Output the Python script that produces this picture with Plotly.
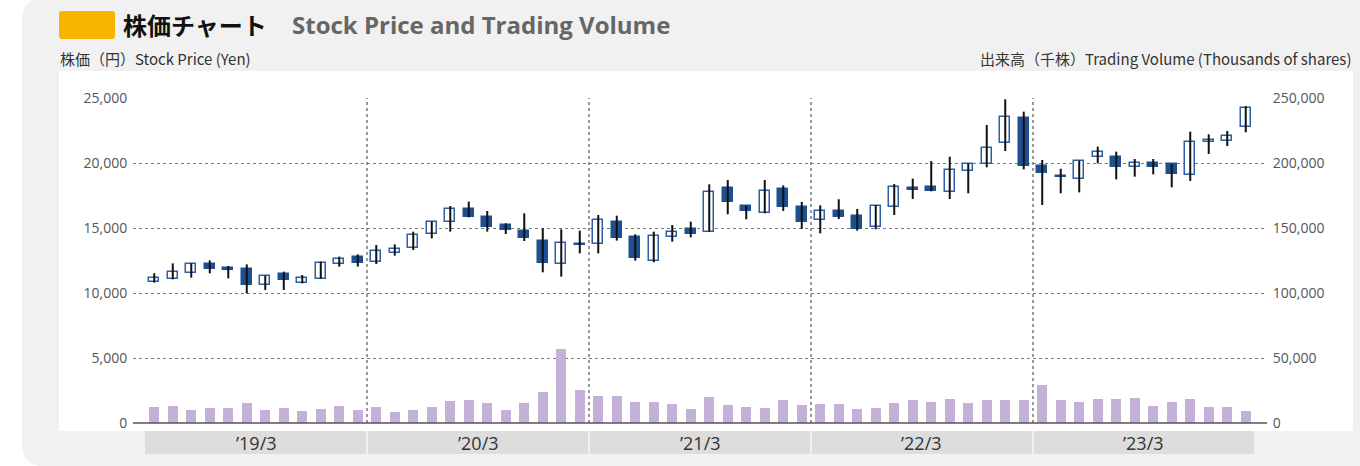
import plotly.graph_objects as go

# ---------------- data ----------------
year_labels = ["’19/3", "’20/3", "’21/3", "’22/3", "’23/3"]
months_per_year = 12

opens = [10850, 11050, 11560, 12230, 11900, 11850, 10640, 11460, 10800, 11100, 12200, 12740,
         12410, 13050, 13440, 14510, 15490, 16490, 15870, 15260, 14800, 14030, 12200, 13770,
         13770, 15490, 14280, 12490, 14330, 14920, 14720, 18050, 16720, 16130, 18030, 16640,
         15620, 16330, 15920, 15100, 16640, 18080, 18130, 17800, 19380, 19900, 21510, 23440,
         19800, 19030, 18800, 20490, 20490, 19690, 20030, 19900, 19050, 21590, 21670, 22770]
highs = [11520, 12280, 12280, 12510, 12080, 12200, 11330, 11640, 11380, 12410, 12800, 12970,
         13690, 13740, 14720, 15490, 16690, 17030, 16310, 15360, 16130, 14970, 14900, 14800,
         16000, 15950, 14510, 14720, 15230, 15490, 18360, 18690, 16720, 18690, 18280, 17000,
         16740, 17210, 16460, 16770, 18380, 18800, 20150, 20490, 19970, 22920, 24900, 23950,
         20230, 19560, 20180, 21260, 20870, 20310, 20310, 19900, 22410, 22210, 22460, 24380]
lows = [10800, 11050, 11180, 11510, 11130, 9970, 10230, 10230, 10740, 11100, 12030, 12030,
        12230, 12870, 13310, 14200, 14720, 15820, 14720, 14540, 14000, 11590, 11260, 13050,
        13050, 14030, 12490, 12360, 13950, 14280, 14720, 16050, 15670, 16130, 16310, 14920,
        14590, 15690, 14800, 14900, 16000, 17230, 17820, 17230, 17670, 19670, 20920, 19510,
        16770, 17670, 17740, 19970, 18740, 18950, 19130, 18130, 18620, 20690, 21310, 22360]
closes = [11180, 11640, 12200, 11870, 11800, 10590, 11330, 11000, 11130, 12280, 12590, 12280,
          13260, 13360, 14460, 15490, 16490, 15870, 15100, 14850, 14260, 12280, 13820, 13670,
          15620, 14200, 12670, 14410, 14720, 14540, 17800, 17030, 16330, 17870, 16620, 15490,
          16330, 15820, 14920, 16690, 18180, 17920, 17820, 19440, 19900, 21150, 23540, 19770,
          19210, 18900, 20180, 20870, 19670, 19970, 19720, 19150, 21620, 21800, 22100, 24260]
volumes = [12170, 12950, 9840, 11400, 11400, 15280, 9840, 11400, 9070, 10620, 12950, 9840,
           12170, 8290, 9840, 12170, 16840, 17610, 15280, 9840, 15280, 23830, 57240, 25380,
           20720, 20720, 16060, 16060, 14500, 10620, 19940, 13730, 12170, 11400, 17610, 13730,
           14500, 14500, 10620, 11400, 15280, 17610, 16060, 18390, 15280, 17610, 17610, 17610,
           29270, 17610, 16060, 18390, 18390, 19170, 12950, 16060, 18390, 12170, 12170, 9070]

price_ticks = [0, 5000, 10000, 15000, 20000, 25000]
volume_ticks = [0, 50000, 100000, 150000, 200000, 250000]

# ---------------- geometry ----------------
W, H = 1360, 466
PL, PR, PT, PB = 133, 1267, 98, 423
X0, X1 = -1.15, 60.15
n = len(opens)
idx = list(range(n))


def px(p):
    return (p - PL) / (PR - PL)


def py(p):
    return (PB - p) / (PB - PT)


def dx(v):
    return (v - X0) / (X1 - X0)


UP_LINE = "#2f5fa3"
DOWN_FILL = "#1e4f8f"

fig = go.Figure()

# volume bars
fig.add_trace(go.Bar(x=idx, y=volumes, yaxis="y2", width=0.54,
                     marker=dict(color="#c3b1d7", line=dict(width=0)),
                     hoverinfo="skip", showlegend=False))

# wicks
wx, wy = [], []
for i in idx:
    wx += [i, i, None]
    wy += [lows[i], highs[i], None]
fig.add_trace(go.Scatter(x=wx, y=wy, mode="lines", line=dict(color="#111", width=2),
                         hoverinfo="skip", showlegend=False))

# candle bodies
base = [min(o, c) for o, c in zip(opens, closes)]
height = [max(abs(c - o), 40) for o, c in zip(opens, closes)]
fill = ["#ffffff" if c >= o else DOWN_FILL for o, c in zip(opens, closes)]
edge = [UP_LINE if c >= o else DOWN_FILL for o, c in zip(opens, closes)]
fig.add_trace(go.Bar(x=idx, y=height, base=base, width=0.54,
                     marker=dict(color=fill, line=dict(color=edge, width=1.5)),
                     hoverinfo="skip", showlegend=False))

shapes = []
# card background
cx0, cx1, cy0, cy1, r = 22, 1420, -2, 466, 22
card_path = (f"M {px(cx0 + r)},{py(cy0)} L {px(cx1)},{py(cy0)} L {px(cx1)},{py(cy1)} "
             f"L {px(cx0 + r)},{py(cy1)} Q {px(cx0)},{py(cy1)} {px(cx0)},{py(cy1 - r)} "
             f"L {px(cx0)},{py(cy0 + r)} Q {px(cx0)},{py(cy0)} {px(cx0 + r)},{py(cy0)} Z")
shapes.append(dict(type="path", xref="paper", yref="paper", path=card_path,
                   fillcolor="#f0f1f0", line=dict(width=0), layer="below"))
# white chart area
shapes.append(dict(type="rect", xref="paper", yref="paper", x0=px(59), x1=px(1353),
                   y0=py(431), y1=py(71), fillcolor="#ffffff", line=dict(width=0), layer="below"))
# yellow box
yx0, yx1, yy0, yy1, yr = 59, 115, 11, 39, 3
ypath = (f"M {px(yx0 + yr)},{py(yy0)} L {px(yx1 - yr)},{py(yy0)} Q {px(yx1)},{py(yy0)} {px(yx1)},{py(yy0 + yr)} "
         f"L {px(yx1)},{py(yy1 - yr)} Q {px(yx1)},{py(yy1)} {px(yx1 - yr)},{py(yy1)} "
         f"L {px(yx0 + yr)},{py(yy1)} Q {px(yx0)},{py(yy1)} {px(yx0)},{py(yy1 - yr)} "
         f"L {px(yx0)},{py(yy0 + yr)} Q {px(yx0)},{py(yy0)} {px(yx0 + yr)},{py(yy0)} Z")
shapes.append(dict(type="path", xref="paper", yref="paper", path=ypath,
                   fillcolor="#f8b500", line=dict(width=0), layer="below"))

annotations = []
for k, lab in enumerate(year_labels):
    a = k * months_per_year - 0.5
    b = a + months_per_year
    shapes.append(dict(type="rect", xref="paper", yref="paper",
                       x0=dx(a) + (0.0 if k == 0 else 0.0009), x1=dx(b) - 0.0009,
                       y0=py(454), y1=py(431), fillcolor="#dcdddc", line=dict(width=0), layer="below"))
    annotations.append(dict(x=(a + b) / 2, y=py(442.5), xref="x", yref="paper", text=lab,
                            showarrow=False, xanchor="center", yanchor="middle",
                            font=dict(size=18, color="#333", family="Open Sans")))
    if k > 0:
        shapes.append(dict(type="line", xref="x", yref="paper", x0=a, x1=a, y0=0, y1=1,
                           line=dict(color="#777", width=1.5, dash="dot"), layer="below"))

# baseline
shapes.append(dict(type="line", xref="paper", yref="paper", x0=0, x1=1, y0=0, y1=0,
                   line=dict(color="#555", width=1.5)))

annotations += [
    dict(x=px(121), y=py(24), xref="paper", yref="paper", text="<b>株価チャート</b>",
         showarrow=False, xanchor="left", yanchor="middle",
         font=dict(size=24, color="#111", family="Noto Sans CJK JP")),
    dict(x=px(290), y=py(24), xref="paper", yref="paper", text="<b>Stock Price and Trading Volume</b>",
         showarrow=False, xanchor="left", yanchor="middle",
         font=dict(size=24, color="#666", family="Open Sans")),
    dict(x=px(58), y=py(58), xref="paper", yref="paper", text="株価（円）Stock Price (Yen)",
         showarrow=False, xanchor="left", yanchor="middle",
         font=dict(size=15, color="#333", family="Noto Sans CJK JP")),
    dict(x=px(1353), y=py(58), xref="paper", yref="paper",
         text="出来高（千株）Trading Volume (Thousands of shares)",
         showarrow=False, xanchor="right", yanchor="middle",
         font=dict(size=15, color="#333", family="Noto Sans CJK JP")),
]

fig.update_layout(
    width=W, height=H,
    margin=dict(l=PL, r=W - PR, t=PT, b=H - PB, pad=0),
    paper_bgcolor="#ffffff", plot_bgcolor="rgba(0,0,0,0)",
    barmode="overlay", bargap=0, showlegend=False,
    xaxis=dict(range=[X0, X1], showticklabels=False, showgrid=False, zeroline=False,
               showline=False, ticks="", fixedrange=True),
    yaxis=dict(range=[0, 25000], tickvals=price_ticks, tickformat=",", showgrid=True,
               gridcolor="#7a7a7a", gridwidth=1.3, griddash="dot", zeroline=False,
               showline=False, ticks="outside", ticklen=2, tickcolor="rgba(0,0,0,0)",
               tickfont=dict(size=14, color="#555", family="Open Sans"), fixedrange=True),
    yaxis2=dict(range=[0, 250000], tickvals=volume_ticks, tickformat=",", overlaying="y",
                side="right", showgrid=False, zeroline=False, showline=False,
                ticks="outside", ticklen=2, tickcolor="rgba(0,0,0,0)",
                tickfont=dict(size=14, color="#555", family="Open Sans"), fixedrange=True),
    shapes=shapes, annotations=annotations,
)

fig.write_html("out.html", config={"displayModeBar": False},
               post_script="document.body.style.margin='0';document.body.style.overflow='hidden';")
